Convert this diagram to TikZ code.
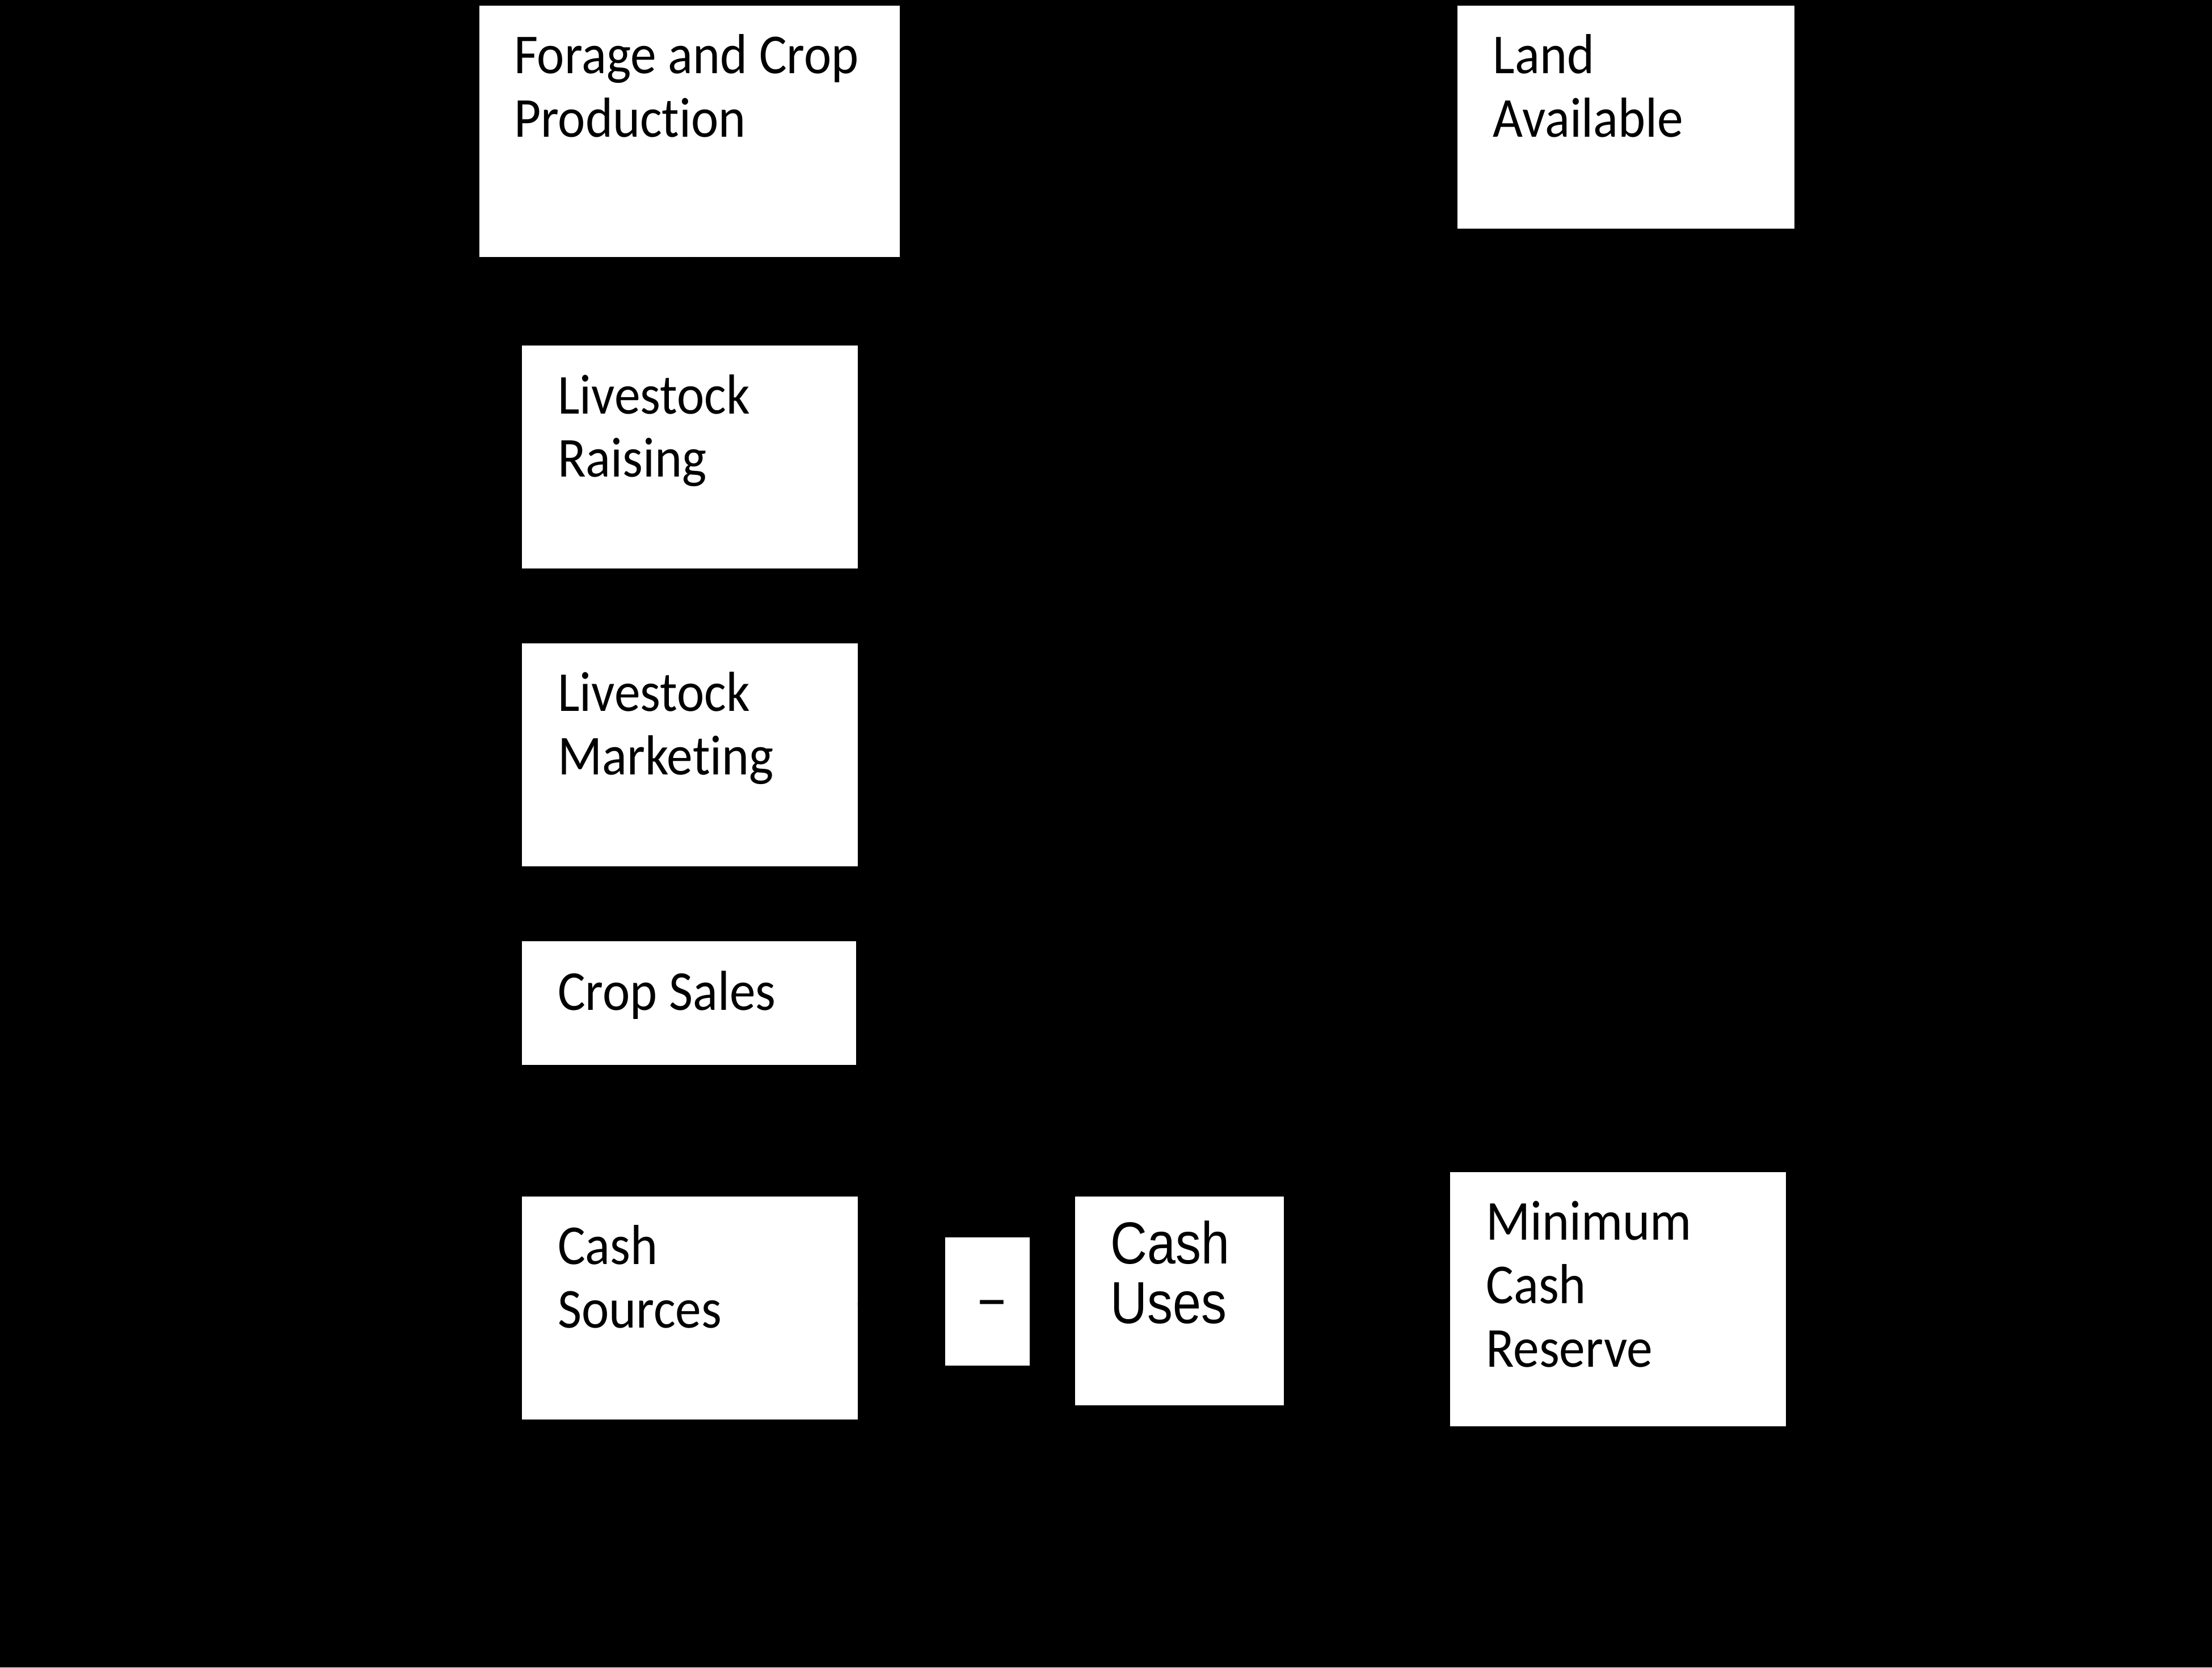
\documentclass[tikz,border=0pt]{standalone}
\usepackage{fontspec}
\newfontfamily\calib[FakeStretch=0.92,Ligatures=NoCommon]{Carlito}
\newfontfamily\arialf[FakeStretch=0.86]{Liberation Sans}
\newfontfamily\symf{DejaVu Sans}
\usetikzlibrary{arrows.meta}
\begin{document}
\begin{tikzpicture}[x=0.5pt,y=-0.5pt,
  wbox/.style={rectangle, fill=white, draw=none, inner sep=0pt, outer sep=0pt},
  btext/.style={anchor=north west, inner sep=0pt, align=left, font=\calib\fontsize{20}{22.5}\selectfont},
  atext/.style={anchor=north west, inner sep=0pt, align=left, font=\arialf\fontsize{21}{21}\selectfont},
  hidden/.style={anchor=west, inner sep=0pt, text=black, font=\calib\fontsize{18}{20}\selectfont},
  relsym/.style={inner sep=0pt, text=black, font=\symf\fontsize{22}{24}\selectfont},
  conn/.style={draw=black, line width=1pt, -{Stealth[length=6pt]}}]
\fill[black] (0,0) rectangle (1568,1182);
\useasboundingbox (0,0) rectangle (1568,1182);
% boxes
\node[wbox, minimum width=149pt, minimum height=89pt] (forage) at (489,93) {};
\node[wbox, minimum width=119.5pt, minimum height=79pt] (land) at (1152.5,83) {};
\node[wbox, minimum width=119pt, minimum height=79pt] (raising) at (489,324) {};
\node[wbox, minimum width=119pt, minimum height=79pt] (marketing) at (489,535) {};
\node[wbox, minimum width=118.5pt, minimum height=44pt] (cropsales) at (488.5,711) {};
\node[wbox, minimum width=119pt, minimum height=79pt] (cashsrc) at (489,927) {};
\node[wbox, minimum width=30pt, minimum height=45.5pt] (minus) at (700,922.5) {};
\node[wbox, minimum width=74pt, minimum height=74pt] (cashuses) at (836,922) {};
\node[wbox, minimum width=119pt, minimum height=90pt] (mcr) at (1147,921) {};
% connectors (black on black, as in the reference)
\draw[conn] (forage) -- (raising);
\draw[conn] (raising) -- (marketing);
\draw[conn] (cropsales) -- (cashsrc);
\draw[conn] (cashsrc) -- (minus);
\draw[conn] (cashuses) -- (minus);
% texts
\node[btext] (tforage) at (364,24) {Forage and Crop\\Production};
\node[btext] (tland) at (1058,24) {Land\\Available};
\node[btext] (traising) at (395,265) {Livestock\\Raising};
\node[btext] (tmarketing) at (395,476) {Livestock\\Marketing};
\node[btext] (tcropsales) at (395,688) {Crop Sales};
\node[btext] (tcashsrc) at (395,868) {Cash\\Sources};
\node[atext] (tcashuses) at (787,865) {Cash\\Uses};
\node[btext] (tmcr) at (1053,851) {Minimum\\Cash\\Reserve};
\node[inner sep=0pt, font=\arialf\fontsize{20}{20}\selectfont] (tminus) at (703,929) {−};
% hidden texts (black on black)
\node[hidden] (h1) at (20,327) {Transfer to 1};
\node[hidden] (h2) at (20,541) {Transfer to 1};
\node[hidden] (h3) at (20,933) {Transfer to 1};
\node[hidden] (h4) at (405,1103) {Off-Ranch Income};
\node[relsym] (le1) at (967,95) {≤};
\node[relsym] (le2) at (974,939) {≤};
\end{tikzpicture}
\end{document}
